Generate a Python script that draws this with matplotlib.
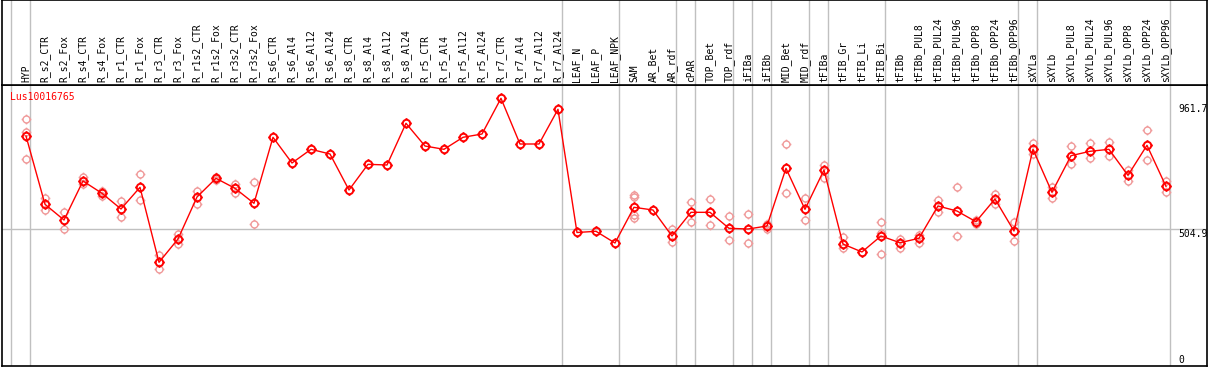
import matplotlib
matplotlib.use('Agg')
import matplotlib.pyplot as plt
from matplotlib.path import Path
import numpy as np

gene = 'Lus10016765'

samples = ['HYP', 'R_s2_CTR', 'R_s2_Fox', 'R_s4_CTR', 'R_s4_Fox', 'R_r1_CTR', 'R_r1_Fox',
           'R_r3_CTR', 'R_r3_Fox', 'R_r1s2_CTR', 'R_r1s2_Fox', 'R_r3s2_CTR', 'R_r3s2_Fox',
           'R_s6_CTR', 'R_s6_Al4', 'R_s6_Al12', 'R_s6_Al24', 'R_s8_CTR', 'R_s8_Al4', 'R_s8_Al12',
           'R_s8_Al24', 'R_r5_CTR', 'R_r5_Al4', 'R_r5_Al12', 'R_r5_Al24', 'R_r7_CTR', 'R_r7_Al4',
           'R_r7_Al12', 'R_r7_Al24', 'LEAF_N', 'LEAF_P', 'LEAF_NPK', 'SAM', 'AR_Bet', 'AR_rdf',
           'cPAR', 'TOP_Bet', 'TOP_rdf', 'iFIBa', 'iFIBb', 'MID_Bet', 'MID_rdf', 'tFIBa',
           'tFIB_Gr', 'tFIB_Li', 'tFIB_Bi', 'tFIBb', 'tFIBb_PUL8', 'tFIBb_PUL24', 'tFIBb_PUL96',
           'tFIBb_OPP8', 'tFIBb_OPP24', 'tFIBb_OPP96', 'sXYLa', 'sXYLb', 'sXYLb_PUL8',
           'sXYLb_PUL24', 'sXYLb_PUL96', 'sXYLb_OPP8', 'sXYLb_OPP24', 'sXYLb_OPP96']

# mean expression per sample
means = [844.7, 593.8, 536.2, 679.4, 634.2, 576.6, 656.3, 380.8, 466.4, 620.6, 689.3, 652.6,
         597.5, 839.9, 745.5, 795.8, 778.6, 646.3, 740.7, 738.2, 891.3, 807.9, 795.8, 839.9,
         852.0, 983.1, 815.3, 815.3, 942.7, 490.3, 494.7, 451.7, 582.8, 572.9, 477.4, 564.4,
         564.4, 505.7, 503.1, 514.1, 726.0, 575.5, 719.8, 448.0, 418.7, 477.4, 452.8, 469.0,
         587.6, 569.2, 529.9, 613.3, 495.8, 795.8, 637.9, 772.3, 788.5, 795.8, 700.3, 810.5,
         659.9]

# replicate values (empty where only one sample)
reps = [[906.0, 860.4, 760.2], [618.1, 572.9], [564.4, 504.2], [693.0, 667.3], [642.7, 624.3],
        [606.0, 547.2], [704.0, 609.6], [408.7, 355.1], [485.9, 446.9], [642.7, 593.8],
        [693.0, 683.1], [667.3, 636.4], [674.6, 520.4],
        [], [], [], [], [], [], [], [], [], [], [], [], [], [], [], [],
        [], [], [],
        [628.0, 619.5, 555.6, 542.4], [], [503.1, 454.3], [601.2, 528.8], [612.2, 516.7],
        [549.8, 462.7], [557.1, 450.6], [521.5, 502.0], [815.3, 635.3], [615.9, 536.2],
        [740.0, 689.3], [474.8, 432.2], [], [528.8, 487.3, 410.2], [465.3, 434.4],
        [481.1, 452.8], [609.6, 566.7], [658.5, 476.3], [520.4, 536.2], [630.6, 594.9],
        [527.7, 460.2], [817.8, 778.6], [658.5, 617.0], [807.9, 741.8], [817.8, 762.8],
        [821.5, 770.1], [719.8, 680.5], [865.6, 755.4], [680.5, 640.1]]

# last sample index of each group
group_ends = [-1, 0, 28, 31, 34, 35, 37, 38, 39, 41, 42, 45, 52, 53, 60]
ref_levels = [961.7, 504.9, 0]

x = np.arange(len(samples))

# circle with small ticks
circ = Path.unit_circle()
tk = []
for dx, dy in [(0, 1), (0, -1), (1, 0), (-1, 0)]:
    tk.append(Path([(dx, dy), (dx * 1.4, dy * 1.4)], [Path.MOVETO, Path.LINETO]))
mark = Path.make_compound_path(circ, *tk)

fig = plt.figure(figsize=(12.09, 3.70), dpi=100)
W, H = 1209.0, 370.0
ax = fig.add_axes([2 / W, 4 / H, 1205 / W, 281 / H])
hax = fig.add_axes([2 / W, 285 / H, 1205 / W, 85 / H], sharex=ax)

ax.set_xlim(-1.263, 62.16)
ax.set_ylim(0, 1032)
hax.set_ylim(0, 1)

for a in (ax, hax):
    a.set_xticks([])
    a.set_yticks([])
    for s in a.spines.values():
        s.set_color('black')
        s.set_linewidth(1.2)
    for g in group_ends:
        a.axvline(g + 0.237, color='#c0c0c0', lw=1.0, zorder=0)

ax.axhline(ref_levels[1], color='#c0c0c0', lw=1.0, zorder=0)

mono = 'DejaVu Sans Mono'
fs = 7.0
for i, s in enumerate(samples):
    hax.text(i, 0.03, s, rotation=90, ha='center', va='bottom', fontsize=fs,
             family=mono, transform=hax.get_xaxis_transform())

rx = []
ry = []
for i, r in enumerate(reps):
    for v in r:
        rx.append(i)
        ry.append(v)
ax.plot(rx, ry, ls='none', marker=mark, ms=7, mfc='none', mec='#f09a9a', mew=1.0, zorder=2)
ax.plot(x, means, color='red', lw=1.0, zorder=3)
ax.plot(x, means, ls='none', marker=mark, ms=7.5, mfc='none', mec='red', mew=1.4, zorder=4)

ax.text(0.0066, 0.957, gene, color='red', fontsize=fs, family=mono, va='center',
        ha='left', transform=ax.transAxes)

xl = (1178 - 26) / 19.0
ax.text(xl, ref_levels[0], '%.1f' % ref_levels[0], fontsize=fs, family=mono, va='top', ha='left')
ax.text(xl, ref_levels[1], '%.1f' % ref_levels[1], fontsize=fs, family=mono, va='top', ha='left')
ax.text(xl, ref_levels[2] + 5, '%d' % ref_levels[2], fontsize=fs, family=mono, va='bottom', ha='left')

fig.savefig('out.png', dpi=100)
